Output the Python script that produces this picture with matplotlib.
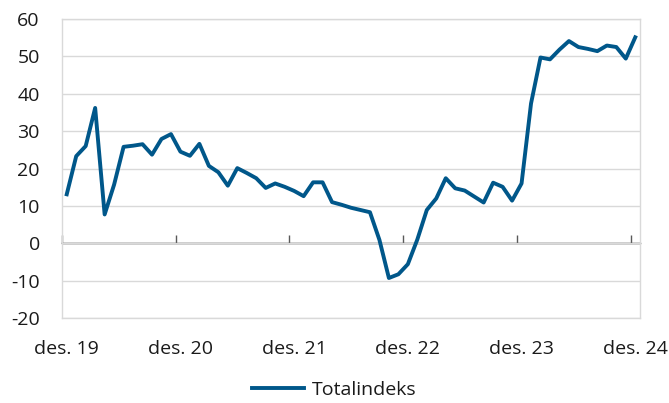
import matplotlib
matplotlib.use("Agg")
import matplotlib.pyplot as plt
from matplotlib.lines import Line2D

plt.rcParams['font.family'] = ['Open Sans', 'DejaVu Sans']
plt.rcParams['axes.unicode_minus'] = False

# Monthly values, des. 2019 - des. 2024
values = [13.1, 23.3, 26.0, 36.2, 7.7, 15.7, 25.8, 26.1, 26.5, 23.7, 27.9, 29.2,
          24.5, 23.4, 26.6, 20.7, 19.0, 15.4, 20.1, 18.8, 17.4, 14.8, 16.0, 15.1,
          14.0, 12.6, 16.3, 16.3, 11.0, 10.3, 9.5, 8.9, 8.3, 0.9, -9.3, -8.3,
          -5.6, 1.0, 8.9, 12.0, 17.4, 14.7, 14.1, 12.5, 10.9, 16.2, 15.1, 11.4,
          16.0, 37.4, 49.7, 49.2, 51.8, 54.1, 52.5, 52.0, 51.4, 52.9, 52.5, 49.4,
          55.1]
tick_labels = ["des. 19", "des. 20", "des. 21", "des. 22", "des. 23", "des. 24"]
series_name = "Totalindeks"

line_color = "#00578A"
grid_color = "#D9D9D9"
text_color = "#1A1A1A"
fs = 14

W, H = 669, 403
fig = plt.figure(figsize=(W / 100, H / 100), dpi=100)
left, right, top, bottom = 62, 640, 19, 318
ax = fig.add_axes([left / W, 1 - bottom / H, (right - left) / W, (bottom - top) / H])

n = len(values)
x = list(range(n))
ax.plot(x, values, color=line_color, lw=2.8, solid_joinstyle='round', zorder=3)

ymin, ymax = -20, 60
ax.set_xlim(-0.5, n - 0.5)
ax.set_ylim(ymin, ymax)

ax.set_yticks(range(ymin, ymax + 1, 10))
ax.yaxis.grid(True, color=grid_color, lw=1.0)
ax.set_axisbelow(True)
ax.tick_params(axis='y', length=0, pad=16, labelsize=fs, labelcolor=text_color)

label_pos = list(range(0, n, 12))
ax.set_xticks(label_pos)
ax.set_xticklabels(tick_labels)
ax.tick_params(axis='x', length=0, pad=16, labelsize=fs, labelcolor=text_color)

for s in ax.spines.values():
    s.set_color(grid_color)
    s.set_linewidth(1.0)

# zero axis with tick marks at year boundaries
zpos = (0 - ymin) / (ymax - ymin)
sec = ax.secondary_xaxis(zpos)
sec.set_xticks([p - 0.5 for p in label_pos])
sec.tick_params(axis='x', direction='in', length=6, width=1, color='#595959', labelbottom=False, labeltop=False)
sec.spines['bottom'].set_color('black')
sec.spines['bottom'].set_linewidth(1.0)
sec.spines['bottom'].set_zorder(2)

handle = Line2D([], [], color=line_color, lw=2.8)
fig.legend([handle], [series_name], loc='center', bbox_to_anchor=(334 / W, 1 - 390 / H),
           frameon=False, fontsize=fs, handlelength=2.7, handletextpad=0.4,
           labelcolor=text_color)

fig.savefig("out.png", dpi=100)
